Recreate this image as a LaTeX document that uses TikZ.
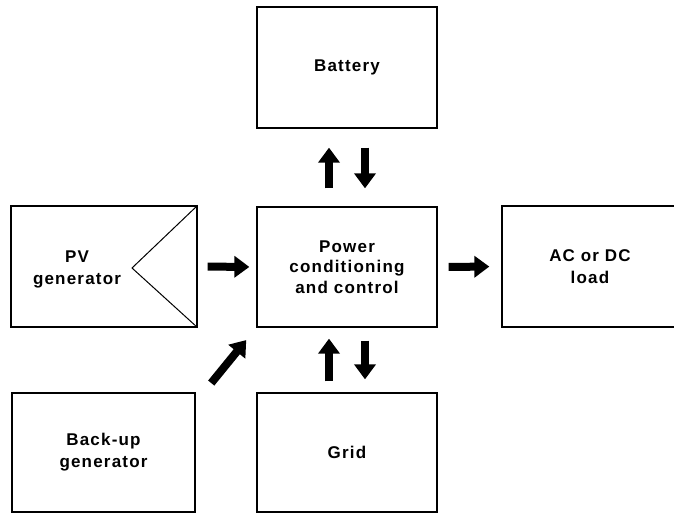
\documentclass[tikz,border=0pt]{standalone}
\usepackage{fontspec}
\setmainfont{Liberation Sans}[LetterSpace=7]
\usetikzlibrary{arrows.meta,calc}
\tikzset{
  blk/.style={draw=black, line width=1.3pt, rectangle, inner sep=0pt, align=center,
    font=\bfseries\fontsize{17}{20.5}\selectfont},
  lbl/.style={inner sep=0pt, align=center, font=\bfseries\fontsize{17}{22}\selectfont},
  bigarrow/.style={line width=8pt, -{Triangle[width=21pt,length=15pt]}},
  thin/.style={line width=1pt}
}
\begin{document}
\begin{tikzpicture}[x=1pt,y=-1pt]
\useasboundingbox (0,0) rectangle (674,514);
\fill[white] (0,0) rectangle (674,514);
% boxes
\node[blk, minimum width=180pt, minimum height=121pt] (bat) at (347,67.5) {Battery};
\node[blk, minimum width=186pt, minimum height=121pt] (pv) at (104,266.5) {};
\node[lbl] (pvlabel) at (77,269) {PV\\generator};
\node[blk, minimum width=180pt, minimum height=120pt] (pc) at (347,267) {Power\\conditioning\\and control};
\node[blk, minimum width=176pt, minimum height=121pt, font=\bfseries\fontsize{17}{22.5}\selectfont] (ac) at (590,266.5) {AC or DC\\load};
\node[blk, minimum width=183pt, minimum height=119pt, font=\bfseries\fontsize{17}{22}\selectfont] (bu) at (103.5,452.5) {Back-up\\generator};
\node[blk, minimum width=180pt, minimum height=119pt] (grid) at (347,452.5) {Grid};
% PV triangle
\coordinate (pvv) at (132,268);
\draw[thin] (pv.north east) -- (pvv) -- (pv.south east);
% arrows
\draw[bigarrow, shorten <=10pt, shorten >=7pt] (pv.east) -- (pc.west);
\draw[bigarrow, shorten <=11pt, shorten >=12pt] (pc.east) -- (ac.west);
\draw[bigarrow, shorten <=18pt, shorten >=19pt] ([xshift=-18pt]pc.north) -- ([xshift=-18pt]bat.south);
\draw[bigarrow, shorten <=19pt, shorten >=18pt] ([xshift=18pt]bat.south) -- ([xshift=18pt]pc.north);
\draw[bigarrow, shorten <=11pt, shorten >=11pt] ([xshift=-18pt]grid.north) -- ([xshift=-18pt]pc.south);
\draw[bigarrow, shorten <=13pt, shorten >=13pt] ([xshift=18pt]pc.south) -- ([xshift=18pt]grid.north);
\draw[bigarrow, shorten <=12pt, shorten >=16pt] ([xshift=8pt]bu.north east) -- (pc.south west);
\end{tikzpicture}
\end{document}
